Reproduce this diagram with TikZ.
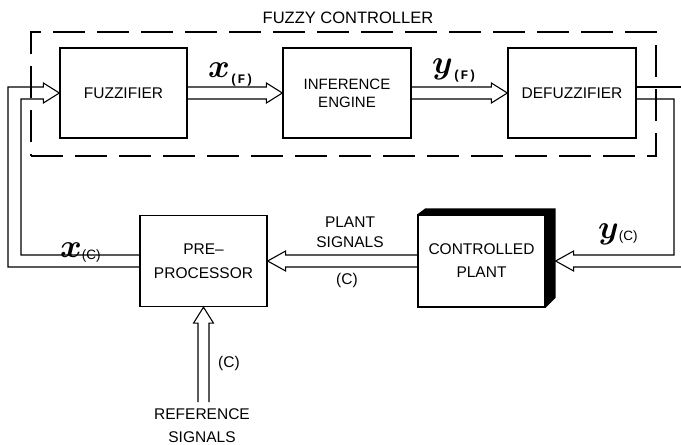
\documentclass[tikz,border=0pt]{standalone}
\usepackage{graphicx}
\usepackage{bm}
\usepackage{fontspec}
\setmainfont{Liberation Sans}
\setmonofont{Liberation Mono}
\usetikzlibrary{calc}
\newcommand\sigvar[1]{\scalebox{3.3}{$\bm{#1}$}}
\begin{document}
\begin{tikzpicture}[x=1pt,y=-1pt,
  box/.style={draw,line width=1.3pt,minimum width=127pt,minimum height=90pt,inner sep=0pt,align=center,font=\fontsize{15.5}{19}\selectfont},
  sig/.style={line width=1.1pt,line join=miter},
  lbl/.style={inner sep=0pt,align=center,font=\fontsize{15.5}{23}\selectfont},
  mlbl/.style={inner sep=0pt,anchor=base west}]
\useasboundingbox (0,0) rectangle (681,445);
% fuzzy controller frame
\node[draw,line width=1.1pt,dash pattern=on 32pt off 12pt,minimum width=625pt,minimum height=124pt,inner sep=0pt] (fc) at (343.5,94) {};
\node[lbl,font=\fontsize{16.5}{20}\selectfont] (title) at (348,18) {FUZZY CONTROLLER};
% blocks
\node[box] (fuz) at (123.5,93) {FUZZIFIER};
\node[box,minimum width=128pt,font=\fontsize{15}{18}\selectfont] (inf) at (347,93) {INFERENCE\\ENGINE};
\node[box,minimum width=128pt] (def) at (572,93) {DEFUZZIFIER};
\node[box,minimum height=91pt,font=\fontsize{15.5}{24}\selectfont] (pre) at (203.5,261) {PRE–\\PROCESSOR};
\node[box,minimum height=92pt,font=\fontsize{15.5}{23}\selectfont] (plant) at (481.5,261) {CONTROLLED\\PLANT};
\fill (plant.north west) -- ++(8,-6) -- ($(plant.north east)+(10,-6)$) -- ($(plant.south east)+(10,-10)$) -- (plant.south east) -- (plant.north east) -- cycle;
% free ends
\coordinate (L1) at (8,87);
\coordinate (L2) at (21,99);
\coordinate (R1) at (674,255);
\coordinate (Rtop) at (681,87);
\coordinate (Rbot) at (681,267);
\coordinate (refb) at (203.5,402);
% connectors
\draw[sig] ($(fuz.east)+(0,-6)$) -- ($(inf.west)+(-16,-6)$) -- ++(0,-4) -- (inf.west) -- ++(-16,10) -- ++(0,-4) -- ($(fuz.east)+(0,6)$);
\draw[sig] ($(inf.east)+(0,-6)$) -- ($(def.west)+(-16,-6)$) -- ++(0,-4) -- (def.west) -- ++(-16,10) -- ++(0,-4) -- ($(inf.east)+(0,6)$);
\draw[sig] ($(pre.west)+(0,6)$) -| (L1) -- ($(fuz.west)+(-16,-6)$) -- ++(0,-4) -- (fuz.west) -- ++(-16,10) -- ++(0,-4) -- (L2) |- ($(pre.west)+(0,-6)$);
\draw[sig] ($(def.east)+(0,-6)$) -- (Rtop);
\draw[sig] ($(def.east)+(0,6)$) -| (R1) -- ($(plant.east)+(28,-6)$) -- ++(0,-4) -- ($(plant.east)+(10,0)$) -- ++(18,10) -- ++(0,-4) -- (Rbot);
\draw[sig] ($(plant.west)+(0,-6)$) -- ($(pre.east)+(18,-6)$) -- ++(0,-4) -- (pre.east) -- ++(18,10) -- ++(0,-4) -- ($(plant.west)+(0,6)$);
\draw[sig] ($(refb)+(-5.5,0)$) -- ($(pre.south)+(-5.5,16)$) -- ++(-4.5,0) -- (pre.south) -- ++(10,16) -- ++(-4.5,0) -- ($(refb)+(5.5,0)$);
% labels
\node[mlbl] (xf) at (208,77) {\sigvar{x}\raisebox{-6pt}{\fontsize{13}{13}\selectfont\ttfamily\bfseries (F)}};
\node[mlbl] (yf) at (432,73) {\sigvar{y}\raisebox{-6pt}{\fontsize{13}{13}\selectfont\ttfamily\bfseries (F)}};
\node[mlbl] (xc) at (60,257) {\sigvar{x}\raisebox{-2pt}{\fontsize{13.5}{13.5}\selectfont (C)}};
\node[mlbl] (yc) at (598,238) {\sigvar{y}\raisebox{-2pt}{\fontsize{13.5}{13.5}\selectfont (C)}};
\node[lbl,font=\fontsize{15.5}{20}\selectfont] (ps) at (350,232) {PLANT\\SIGNALS};
\node[lbl] (psc) at (347,280) {(C)};
\node[lbl] (refc) at (229,363) {(C)};
\node[lbl] (refl) at (202,426) {REFERENCE\\SIGNALS};
\end{tikzpicture}
\end{document}
